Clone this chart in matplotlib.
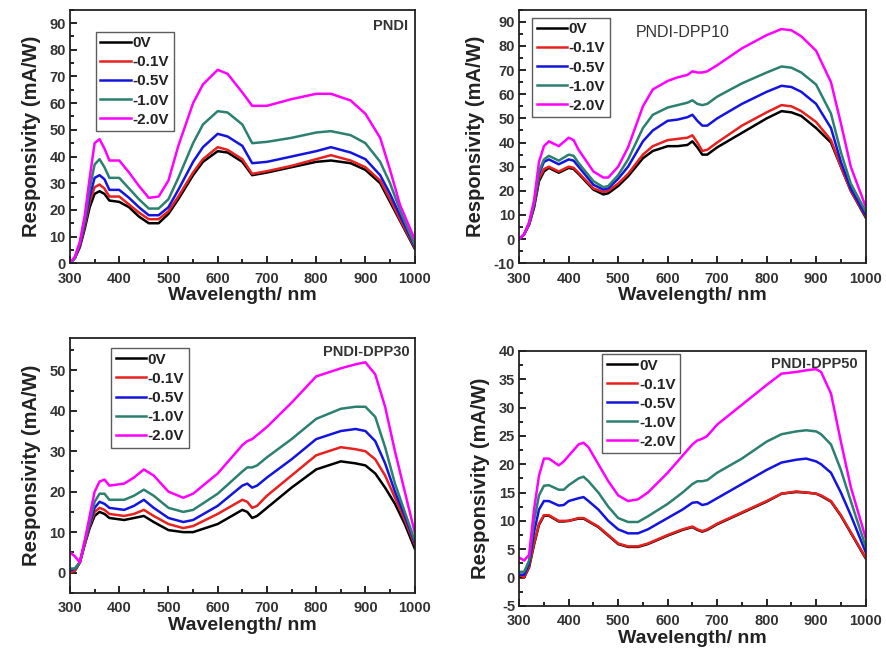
import numpy as np
import matplotlib
matplotlib.use("Agg")
import matplotlib.pyplot as plt
from matplotlib.ticker import MultipleLocator

plt.rcParams['font.family'] = ['Liberation Sans', 'DejaVu Sans']
plt.rcParams['axes.unicode_minus'] = False

labels = ["0V", "-0.1V", "-0.5V", "-1.0V", "-2.0V"]
colors = ["black", "#e8201e", "#1414e0", "#2b8070", "#ff00ff"]

# PNDI
wl_a = [300, 310, 320, 330, 340, 350, 360, 370, 380, 400, 420, 440, 460, 480, 500, 520,
        550, 570, 600, 620, 650, 670, 700, 750, 800, 830, 870, 900, 930, 950, 970, 1000]
pndi_0 = [0, 2, 6, 13, 21, 26, 27, 26, 23.5, 23, 21, 17.5, 15, 15, 18.5, 24,
          33, 38, 42, 41.5, 38, 33, 34, 36, 38, 38.5, 37.5, 35, 30, 23, 16, 5.5]
pndi_01 = [0, 2, 6.5, 14, 23, 28.5, 29.5, 28, 25, 25, 22, 19, 16.5, 16.5, 19.5, 25,
           34, 39, 43.5, 42.5, 39, 33.5, 34.5, 36.5, 39, 40.5, 38.5, 36, 31, 24, 16.5, 6]
pndi_05 = [0, 2, 7, 15, 25, 32, 33, 31.5, 27.5, 27.5, 24.5, 21, 18, 18, 21, 27.5,
           38, 43.5, 48.5, 47.5, 44, 37.5, 38, 40, 42, 43.5, 41.5, 39, 33, 26, 18, 6.5]
pndi_10 = [0, 2, 7.5, 16, 28, 37, 39, 36, 32, 32, 28, 24, 20.5, 20.5, 24, 32,
           45, 52, 57, 56.5, 52, 45, 45.5, 47, 49, 49.5, 48, 45, 38, 30, 20, 7]
pndi_20 = [0, 2.5, 8, 18, 32, 45, 46.5, 43, 38.5, 38.5, 34, 29, 24.5, 25, 31, 44,
           60, 67, 72.5, 71, 64, 59, 59, 61.5, 63.5, 63.5, 61, 56, 47, 35, 22, 9]

# PNDI-DPP10
wl_b = [300, 310, 320, 330, 340, 350, 360, 380, 400, 410, 420, 450, 470, 480, 500, 520,
        550, 570, 600, 620, 640, 650, 660, 670, 680, 700, 750, 800, 830, 850, 870, 900,
        930, 950, 970, 1000]
dpp10_0 = [0, 2, 6, 13, 24, 28, 29.5, 27.5, 29.5, 29, 27, 20.5, 18.5, 19, 22, 26,
           33.5, 36.5, 38.5, 38.5, 39, 40.5, 38, 35, 35, 38, 44, 50, 53, 52.5, 51, 46,
           40, 30, 20, 9]
dpp10_01 = [0, 2, 6, 13.5, 25, 29, 30, 28, 30, 29.5, 27.5, 21, 19.5, 20, 23, 27,
            35, 38.5, 41, 41.5, 42, 43, 40, 36.5, 37, 40, 47, 52.5, 55.5, 55, 53, 48.5,
            41, 30, 20, 9.5]
dpp10_05 = [0, 2, 6.5, 14, 27, 32, 33, 31, 33, 32.5, 30, 22.5, 20.5, 21, 25, 30,
            40.5, 45, 49, 49.5, 50.5, 51.5, 49, 47, 47, 50, 56, 61, 63.5, 63, 61, 56,
            46, 32, 21, 10]
dpp10_10 = [0, 2, 6.5, 14.5, 28, 33, 34.5, 32.5, 35, 34.5, 31.5, 24, 21.5, 22, 26.5, 33,
            46, 51.5, 54.5, 55.5, 56.5, 57.5, 56, 55.5, 56, 59, 64.5, 69, 71.5, 71, 69, 64,
            52, 36, 23, 11.5]
dpp10_20 = [0, 2, 7, 16, 32, 38.5, 40.5, 38.5, 42, 41, 37, 28, 25.5, 25.5, 30, 38,
            55, 62, 65.5, 67, 68, 69.5, 69, 69, 69.5, 72, 79, 84.5, 87, 86.5, 84, 78,
            65, 48, 30, 13.5]

# PNDI-DPP30
wl_c = [300, 310, 320, 330, 340, 350, 360, 370, 380, 410, 430, 450, 470, 500, 530, 550,
        600, 650, 660, 670, 680, 700, 750, 800, 850, 880, 900, 920, 940, 960, 980, 1000]
dpp30_0 = [0, 0.5, 2.5, 7, 11, 14, 15, 14.5, 13.5, 13, 13.5, 14, 12.5, 10.5, 10, 10,
           12, 15.5, 15, 13.5, 14, 16, 21, 25.5, 27.5, 27, 26.5, 24.5, 21, 17, 12, 6]
dpp30_01 = [0, 0.5, 2.5, 7, 11.5, 15, 16, 15.5, 14.5, 14, 14.5, 15.5, 14, 12, 11, 11.5,
            14.5, 18, 17.5, 16, 16.5, 19, 24, 29, 31, 30.5, 30, 28, 24, 18.5, 13, 7]
dpp30_05 = [0.5, 1, 2.5, 7.5, 12, 16, 17.5, 17, 16, 15.5, 16.5, 18, 16, 13.5, 12.5, 13,
            16.5, 21.5, 22, 21, 21.5, 23.5, 28, 33, 35, 35.5, 35, 32.5, 27, 20, 14, 7.5]
dpp30_10 = [1, 1, 2.5, 7.5, 12.5, 17.5, 19.5, 19.5, 18, 18, 19, 20.5, 19, 16, 15, 15.5,
            19.5, 25, 26, 26, 26.5, 28.5, 33, 38, 40.5, 41, 41, 38.5, 31, 22, 15, 8]
dpp30_20 = [5, 4, 2.5, 8, 14, 20, 22.5, 23, 21.5, 22, 23.5, 25.5, 24, 20, 18.5, 19.5,
            24.5, 31.5, 32.5, 33, 34, 36, 42, 48.5, 50.5, 51.5, 52, 49, 41, 30, 20, 10]

# PNDI-DPP50
wl_d = [300, 310, 320, 330, 340, 350, 360, 380, 390, 400, 420, 430, 440, 460, 480, 500,
        520, 540, 560, 600, 630, 650, 660, 670, 680, 700, 750, 800, 830, 860, 880, 900,
        910, 930, 950, 970, 1000]
dpp50_0 = [0, 0, 1.8, 5.8, 9.3, 10.9, 10.9, 9.9, 9.9, 10, 10.4, 10.4, 9.9, 8.9, 7.4, 5.9,
           5.4, 5.4, 5.9, 7.4, 8.4, 8.9, 8.4, 8.1, 8.4, 9.4, 11.4, 13.4, 14.8, 15.1, 15, 14.8,
           14.4, 13.4, 10.9, 7.9, 3.4]
dpp50_01 = [0.5, 0, 2, 6, 9.5, 11, 11, 10, 10, 10, 10.5, 10.5, 10, 9, 7.5, 6,
            5.5, 5.5, 6, 7.5, 8.5, 9, 8.5, 8.2, 8.5, 9.5, 11.5, 13.5, 14.8, 15.2, 15, 14.8,
            14.5, 13.5, 11, 8, 3.5]
dpp50_05 = [0.5, 0.5, 2.5, 8, 12, 13.5, 13.5, 12.7, 12.8, 13.5, 14, 14.2, 13.5, 12, 10, 8.5,
            7.8, 7.8, 8.5, 10.5, 12, 13.2, 13.3, 12.8, 13, 14, 16.5, 19, 20.3, 20.8, 21, 20.5,
            20, 18.5, 15, 11, 4.5]
dpp50_10 = [1, 1, 3, 10, 14.5, 16.2, 16.3, 15.5, 15.5, 16.3, 17.5, 17.8, 17, 15, 12.5, 10.5,
            9.8, 9.8, 10.8, 13, 15, 16.5, 17, 17, 17.2, 18.5, 21, 24, 25.3, 25.8, 26, 25.8,
            25.3, 23.5, 19, 13.5, 5.5]
dpp50_20 = [3.5, 3, 4, 12, 18, 21, 21, 19.8, 20.5, 21.5, 23.5, 23.8, 23, 20, 17, 14.5,
            13.5, 13.8, 15, 18.5, 21.5, 23.5, 24.2, 24.5, 25, 27, 30.5, 34, 36, 36.3, 36.6, 36.8,
            36.3, 32.5, 24, 16, 7]


def plot_panel(ax, wl, series, ylim, ystep, title, title_xy, title_ha, title_bold,
               leg_anchor):
    """Plot the five bias curves of one polymer on ax"""
    for vals, c, lab in zip(series, colors, labels):
        ax.plot(wl, vals, '-', color=c, lw=1.8, label=lab)
    ax.set_xlim(300, 1000)
    ax.set_ylim(ylim)
    ax.xaxis.set_major_locator(MultipleLocator(100))
    ax.xaxis.set_minor_locator(MultipleLocator(50))
    ax.yaxis.set_major_locator(MultipleLocator(ystep))
    ax.yaxis.set_minor_locator(MultipleLocator(ystep / 2))
    ax.tick_params(which='both', direction='in', top=False, right=False,
                   labelsize=10.5, labelcolor='#333333', width=1.2)
    ax.tick_params(which='major', length=5)
    ax.tick_params(which='minor', length=3)
    ax.tick_params(axis='x', pad=6)
    ax.tick_params(axis='y', pad=3)
    for lab in ax.get_xticklabels() + ax.get_yticklabels():
        lab.set_fontweight('bold')
    for sp in ax.spines.values():
        sp.set_linewidth(1.3)
        sp.set_color('#222222')
    ax.set_xlabel("Wavelength/ nm", fontsize=14, fontweight='bold', color='#222222',
                  labelpad=1)
    ax.set_ylabel("Responsivity (mA/W)", fontsize=14.5, fontweight='bold', color='#222222',
                  labelpad=6)
    ax.text(title_xy[0], title_xy[1], title, transform=ax.transAxes, ha=title_ha,
            va='center', fontsize=10.5 if title_bold else 11.5,
            fontweight='bold' if title_bold else 'normal', color='#333333')
    leg = ax.legend(loc='upper left', bbox_to_anchor=leg_anchor,
                    prop={'weight': 'bold', 'size': 11}, frameon=True, fancybox=False,
                    edgecolor='#333333', handlelength=2.0, handletextpad=0.1,
                    labelspacing=0.33, borderpad=0.3, borderaxespad=0)
    leg.get_frame().set_linewidth(1.0)
    for t in leg.get_texts():
        t.set_color('#222222')


fig = plt.figure(figsize=(8.86, 6.5), dpi=100)
ax1 = fig.add_axes([0.079, 0.595, 0.389, 0.39])
ax2 = fig.add_axes([0.586, 0.595, 0.391, 0.39])
ax3 = fig.add_axes([0.079, 0.088, 0.389, 0.392])
ax4 = fig.add_axes([0.586, 0.068, 0.391, 0.392])

plot_panel(ax1, wl_a, [pndi_0, pndi_01, pndi_05, pndi_10, pndi_20], (0, 95), 10,
           "PNDI", (0.98, 0.937), 'right', True, (0.075, 0.913))
plot_panel(ax2, wl_b, [dpp10_0, dpp10_01, dpp10_05, dpp10_10, dpp10_20], (-10, 95), 10,
           "PNDI-DPP10", (0.337, 0.909), 'left', False, (0.037, 0.968))
plot_panel(ax3, wl_c, [dpp30_0, dpp30_01, dpp30_05, dpp30_10, dpp30_20], (-5, 58), 10,
           "PNDI-DPP30", (0.986, 0.945), 'right', True, (0.119, 0.96))
plot_panel(ax4, wl_d, [dpp50_0, dpp50_01, dpp50_05, dpp50_10, dpp50_20], (-5, 40), 5,
           "PNDI-DPP50", (0.977, 0.949), 'right', True, (0.24, 0.988))

fig.savefig("out.png", dpi=100)
